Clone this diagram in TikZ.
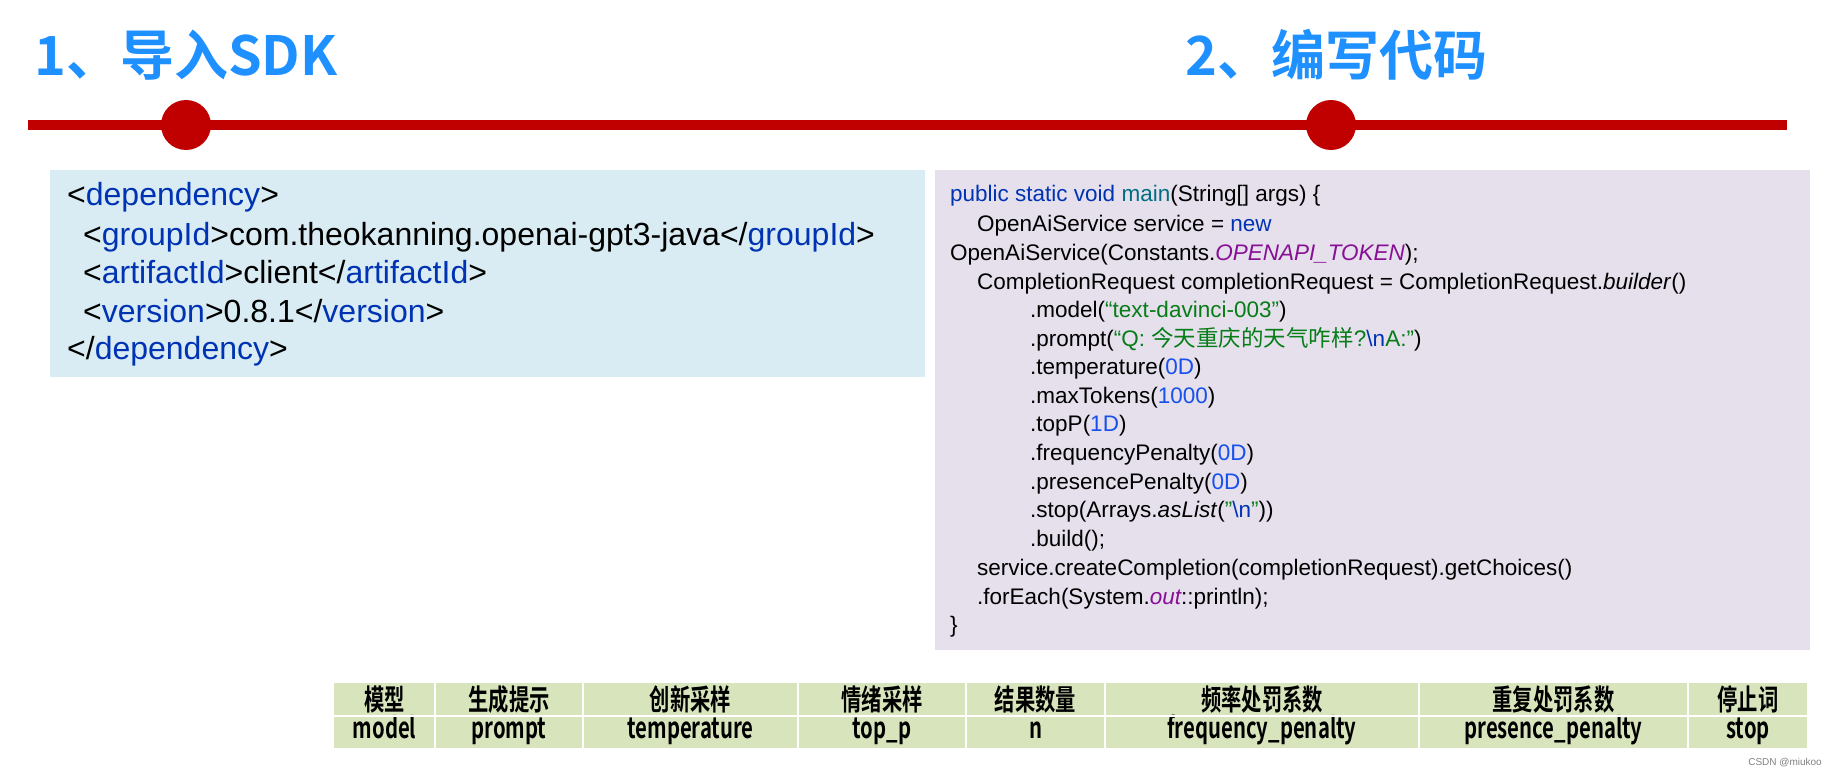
\documentclass[tikz,border=0pt]{standalone}
\usepackage{fontspec}
\setmainfont{Liberation Sans}
\newfontfamily\cjk{Noto Sans CJK SC}
\newfontfamily\cjkb{Noto Sans CJK SC Bold}
\newfontfamily\cjkc[FakeStretch=0.7]{Noto Sans CJK SC Bold}
\definecolor{titleblue}{RGB}{30,144,255}
\definecolor{linered}{RGB}{192,0,0}
\definecolor{xmlbox}{RGB}{218,236,243}
\definecolor{codebox}{RGB}{229,224,236}
\definecolor{tabfill}{RGB}{216,228,188}
\definecolor{kw}{RGB}{0,51,179}
\definecolor{fn}{RGB}{0,110,130}
\definecolor{cst}{RGB}{135,16,148}
\definecolor{str}{RGB}{6,125,23}
\definecolor{num}{RGB}{23,80,235}
\newcommand{\kw}[1]{\textcolor{kw}{#1}}
\newcommand{\cst}[1]{\textcolor{cst}{\itshape #1}}
\newcommand{\str}[1]{\textcolor{str}{#1}}
\newcommand{\num}[1]{\textcolor{num}{#1}}
\tikzset{
  title/.style={anchor=west,inner sep=0,text=titleblue,font=\cjkb\fontsize{54}{56}\selectfont},
  xmlline/.style={anchor=base west,inner sep=0,font=\fontsize{32}{34}\selectfont},
  codeline/.style={anchor=base west,inner sep=0,font=\fontsize{22.5}{24}\selectfont},
  cell/.style={inner sep=0,anchor=base,font=\cjkc\fontsize{29}{30}\selectfont}
}
\begin{document}
\begin{tikzpicture}[x=1pt,y=-1pt]
\useasboundingbox (0,0) rectangle (1825,770);

% titles
\node[title] (t1) at (34,55) {1、导入SDK};
\node[title] (t2) at (1185,55) {2、编写代码};

% timeline
\draw[linered,line width=10pt] (28,125) -- (1787,125);
\fill[linered] (186,125) circle (25);
\fill[linered] (1331,125) circle (25);

% dependency
\fill[xmlbox] (50,170) rectangle (925,377);
\node[xmlline] (x1) at (67,206) {<\kw{dependency}>};
\node[xmlline] (x2) at (83,245) {<\kw{groupId}>com.theokanning.openai-gpt3-java</\kw{groupId}>};
\node[xmlline] (x3) at (83,283) {<\kw{artifactId}>client</\kw{artifactId}>};
\node[xmlline] (x4) at (83,322) {<\kw{version}>0.8.1</\kw{version}>};
\node[xmlline] (x5) at (67,359) {</\kw{dependency}>};

% code
\fill[codebox] (935,170) rectangle (1810,650);
\node[codeline] at (950,202) {\kw{public static void} \textcolor{fn}{main}(String[] args) \{};
\node[codeline] at (977,231) {OpenAiService service = \kw{new}};
\node[codeline] at (950,260) {OpenAiService(Constants.\cst{OPENAPI\_TOKEN});};
\node[codeline] at (977,289) {CompletionRequest completionRequest = CompletionRequest.\textit{builder}()};
\node[codeline] at (1030,317) {.model(\str{“text-davinci-003”})};
\node[codeline] at (1030,346) {.prompt(\str{“Q: {\cjk 今天重庆的天气咋样}?}\kw{\textbackslash n}\str{A:"})};
\node[codeline] at (1030,374) {.temperature(\num{0D})};
\node[codeline] at (1030,403) {.maxTokens(\num{1000})};
\node[codeline] at (1030,431) {.topP(\num{1D})};
\node[codeline] at (1030,460) {.frequencyPenalty(\num{0D})};
\node[codeline] at (1030,489) {.presencePenalty(\num{0D})};
\node[codeline] at (1030,517) {.stop(Arrays.\textit{asList}(\str{"}\kw{\textbackslash n}\str{"}))};
\node[codeline] at (1030,546) {.build();};
\node[codeline] at (977,575) {service.createCompletion(completionRequest).getChoices()};
\node[codeline] at (977,604) {.forEach(System.\cst{out}::println);};
\node[codeline] at (950,632) {\}};

% parameters
\fill[tabfill] (334,683) rectangle (1808,748);
\foreach \xa/\xb/\zh/\en [count=\i] in {
  334/435/模型/model, 435/583/生成提示/prompt, 583/798/创新采样/temperature,
  798/966/情绪采样/top\_p, 966/1105/结果数量/n, 1105/1419/频率处罚系数/frequency\_penalty,
  1419/1688/重复处罚系数/presence\_penalty, 1688/1808/停止词/stop} {
  \node[cell] (zh\i) at ({(\xa+\xb)/2},710) {\zh};
  \node[cell] (en\i) at ({(\xa+\xb)/2},738) {\en};
  \draw[white,line width=2pt] (\xb,683) -- (\xb,748);
}
\draw[white,line width=2pt] (334,716) -- (1808,716);
\node[anchor=south east,inner sep=3pt,text=gray,font=\fontsize{10}{11}\selectfont] (wm) at (1825,770) {CSDN @miukoo};
\end{tikzpicture}
\end{document}
